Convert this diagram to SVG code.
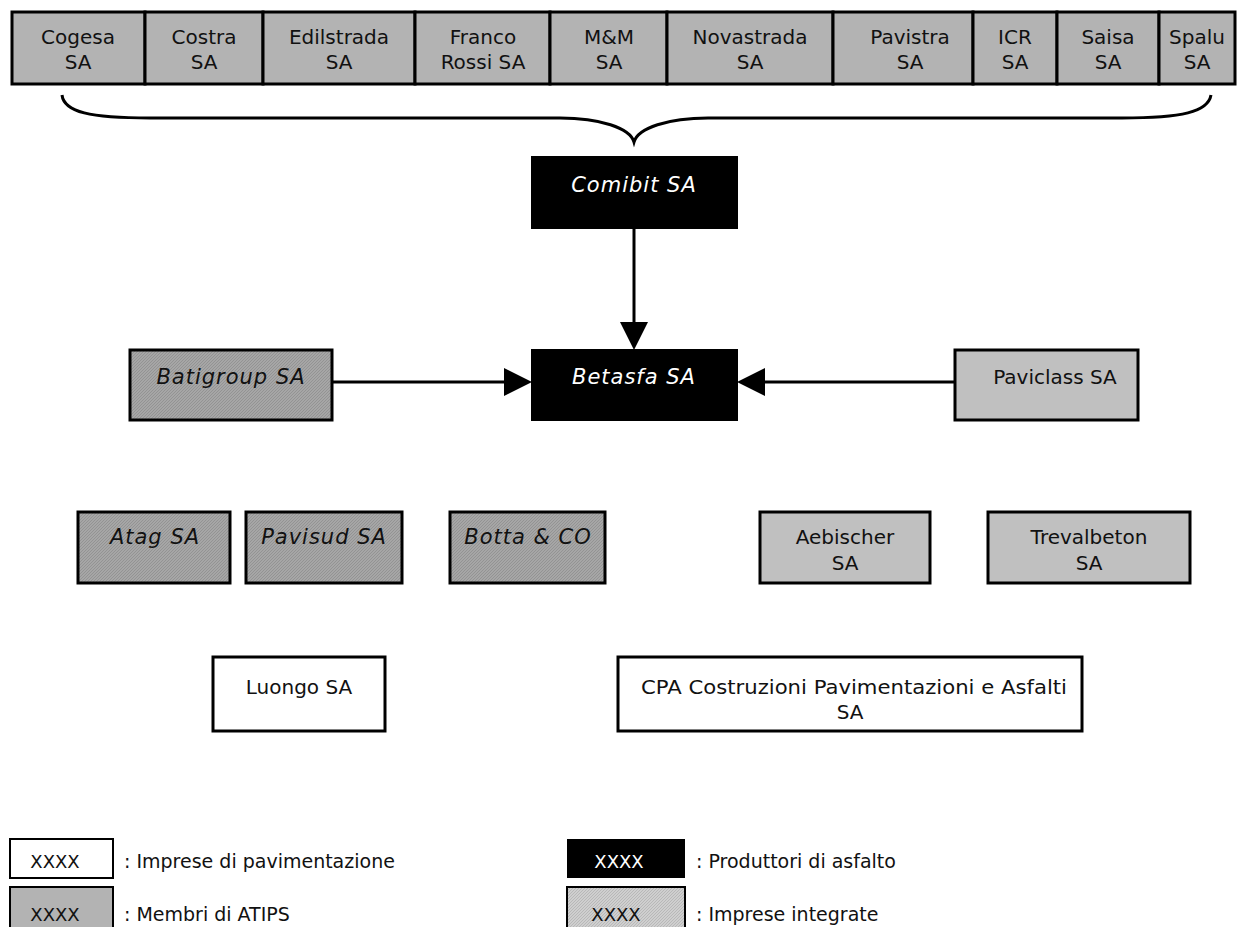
<svg xmlns="http://www.w3.org/2000/svg" width="1246" height="927" viewBox="0 0 1246 927">
<defs>
<pattern id="hatchDark" width="3" height="3" patternUnits="userSpaceOnUse">
<rect width="3" height="3" fill="#a6a6a6"/>
<path d="M0,3 L3,0" stroke="#939393" stroke-width="1"/>
</pattern>
<pattern id="hatchLight" width="3" height="3" patternUnits="userSpaceOnUse">
<rect width="3" height="3" fill="#cfcfcf"/>
<path d="M0,3 L3,0" stroke="#b8b8b8" stroke-width="1"/>
</pattern>
</defs>
<style>
text{font-family:"DejaVu Sans","Liberation Sans",sans-serif;font-size:20px;text-anchor:middle;fill:#111}
.top{fill:#b3b3b3;stroke:#000;stroke-width:3}
.prod{fill:#000;stroke:#000;stroke-width:2}
.atips{fill:url(#hatchDark);stroke:#000;stroke-width:3}
.integ{fill:#c0c0c0;stroke:#000;stroke-width:3}
.pav{fill:#fff;stroke:#000;stroke-width:3}
.it{font-style:italic;letter-spacing:1px;font-size:21px}
.w{fill:#fff}
.leg{font-size:18px}
.lab{font-size:19px;text-anchor:start}
.con{stroke:#000;stroke-width:3;fill:none}
.head{fill:#000}
</style>
<rect width="1246" height="927" fill="#fff"/>

<g id="top-row">
<g id="cogesa"><rect class="top" x="12" y="12" width="133" height="72"/><text x="78" y="44">Cogesa</text><text x="78" y="69">SA</text></g>
<g id="costra"><rect class="top" x="145" y="12" width="118" height="72"/><text x="204" y="44">Costra</text><text x="204" y="69">SA</text></g>
<g id="edilstrada"><rect class="top" x="263" y="12" width="152" height="72"/><text x="339" y="44">Edilstrada</text><text x="339" y="69">SA</text></g>
<g id="francorossi"><rect class="top" x="415" y="12" width="135" height="72"/><text x="483" y="44">Franco</text><text x="483" y="69">Rossi SA</text></g>
<g id="mm"><rect class="top" x="550" y="12" width="117" height="72"/><text x="609" y="44">M&amp;M</text><text x="609" y="69">SA</text></g>
<g id="novastrada"><rect class="top" x="667" y="12" width="166" height="72"/><text x="750" y="44">Novastrada</text><text x="750" y="69">SA</text></g>
<g id="pavistra"><rect class="top" x="833" y="12" width="140" height="72"/><text x="910" y="44">Pavistra</text><text x="910" y="69">SA</text></g>
<g id="icr"><rect class="top" x="973" y="12" width="84" height="72"/><text x="1015" y="44">ICR</text><text x="1015" y="69">SA</text></g>
<g id="saisa"><rect class="top" x="1057" y="12" width="102" height="72"/><text x="1108" y="44">Saisa</text><text x="1108" y="69">SA</text></g>
<g id="spalu"><rect class="top" x="1159" y="12" width="76" height="72"/><text x="1197" y="44">Spalu</text><text x="1197" y="69">SA</text></g>
</g>

<g id="connectors">
<path class="con" d="M62,95 C64,112 90,118 150,118 L560,118 C600,118 630,128 634,142 C638,128 668,118 708,118 L1122,118 C1182,118 1208,112 1211,95" stroke-width="2.5"/>
<line class="con" x1="634" y1="228" x2="634" y2="324"/>
<line class="con" x1="332" y1="382" x2="506" y2="382"/>
<line class="con" x1="955" y1="382" x2="763" y2="382"/>
<path class="head" d="M620,322 L648,322 L634,350 Z"/>
<path class="head" d="M504,368 L532,382 L504,396 Z"/>
<path class="head" d="M765,368 L737,382 L765,396 Z"/>
</g>

<g id="comibit"><rect class="prod" x="532" y="157" width="205" height="71"/><text class="it w" x="634" y="192">Comibit SA</text></g>
<g id="betasfa"><rect class="prod" x="532" y="350" width="205" height="70"/><text class="it w" x="634" y="384">Betasfa SA</text></g>
<g id="batigroup"><rect class="atips" x="130" y="350" width="202" height="70"/><text class="it" x="231" y="384">Batigroup SA</text></g>
<g id="paviclass"><rect class="integ" x="955" y="350" width="183" height="70"/><text x="1055" y="384">Paviclass SA</text></g>

<g id="atag"><rect class="atips" x="78" y="512" width="152" height="71"/><text class="it" x="155" y="544">Atag SA</text></g>
<g id="pavisud"><rect class="atips" x="246" y="512" width="156" height="71"/><text class="it" x="324" y="544">Pavisud SA</text></g>
<g id="botta"><rect class="atips" x="450" y="512" width="155" height="71"/><text class="it" x="528" y="544">Botta &amp; CO</text></g>
<g id="aebischer"><rect class="integ" x="760" y="512" width="170" height="71"/><text x="845" y="544">Aebischer</text><text x="845" y="570">SA</text></g>
<g id="trevalbeton"><rect class="integ" x="988" y="512" width="202" height="71"/><text x="1089" y="544">Trevalbeton</text><text x="1089" y="570">SA</text></g>

<g id="luongo"><rect class="pav" x="213" y="657" width="172" height="74"/><text x="299" y="694">Luongo SA</text></g>
<g id="cpa"><rect class="pav" x="618" y="657" width="464" height="74"/><text x="854" y="694" textLength="426" lengthAdjust="spacingAndGlyphs">CPA Costruzioni Pavimentazioni e Asfalti</text><text x="850" y="719">SA</text></g>

<g id="legend">
<g id="leg-pav"><rect x="10" y="839" width="103" height="39" fill="#fff" stroke="#000" stroke-width="2"/><text class="leg" x="55" y="868">XXXX</text><text class="lab" x="124" y="868">: Imprese di pavimentazione</text></g>
<g id="leg-prod"><rect x="567" y="839" width="118" height="39" fill="#000"/><text class="leg w" x="619" y="868">XXXX</text><text class="lab" x="696" y="868">: Produttori di asfalto</text></g>
<g id="leg-atips"><rect x="10" y="887" width="103" height="45" fill="#b3b3b3" stroke="#000" stroke-width="2"/><text class="leg" x="55" y="921">XXXX</text><text class="lab" x="124" y="921">: Membri di ATIPS</text></g>
<g id="leg-integ"><rect x="567" y="887" width="118" height="45" fill="url(#hatchLight)" stroke="#000" stroke-width="2"/><text class="leg" x="616" y="921">XXXX</text><text class="lab" x="696" y="921">: Imprese integrate</text></g>
</g>
</svg>
